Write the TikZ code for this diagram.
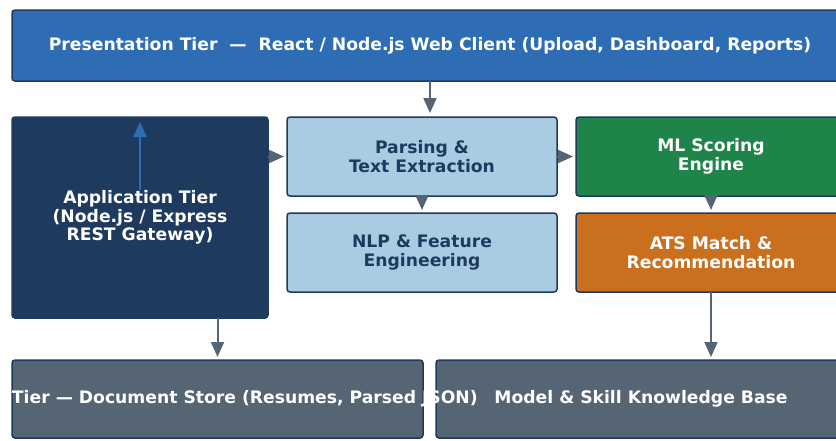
\documentclass[tikz,border=0pt]{standalone}
\usepackage{fontspec}
\setmainfont{DejaVu Sans}
\usepackage{xcolor}
\usetikzlibrary{arrows.meta, positioning}
\definecolor{tierblue}{HTML}{2E6DB4}
\definecolor{navy}{HTML}{1F3A5F}
\definecolor{paleblue}{HTML}{A9CCE3}
\definecolor{scoregreen}{HTML}{1E8449}
\definecolor{matchorange}{HTML}{CA6F1E}
\definecolor{slate}{HTML}{566573}

\begin{document}
\begin{tikzpicture}[
    x=1pt, y=-1pt,
    node distance=17pt and 19pt,
    every node/.style={inner sep=0pt, outer sep=0pt, align=center,
      font=\bfseries\fontsize{17.2}{18.6}\selectfont},
    box/.style={draw=navy, line width=1.5pt, rounded corners=3pt, text=white},
    lightbox/.style={box, fill=paleblue, text=navy, minimum width=270, minimum height=79},
    colbox/.style={box, minimum width=270, minimum height=79},
    arrow/.style={-{Triangle[length=15pt, width=13pt]}, line width=2pt, color=slate},
    uparrow/.style={-{Triangle[length=15pt, width=13pt]}, line width=2pt, color=tierblue},
  ]
  \useasboundingbox (0,0) rectangle (836,440);
  \clip (0,0) rectangle (836,440);

  % Presentation tier
  \node[box, fill=tierblue, minimum width=836, minimum height=71] (web) at (430,45.5)
    {Presentation Tier~~—~~React / Node.js Web Client (Upload, Dashboard, Reports)};

  % Application tier
  \node[box, fill=navy, minimum width=256, minimum height=201] (app) at (140,217.5)
    {Application Tier\\(Node.js / Express\\REST Gateway)};

  % Processing pipeline
  \node[lightbox] (parse) at (422,156.5) {Parsing \&\\Text Extraction};
  \node[lightbox] (nlp) [below=of parse] {NLP \& Feature\\Engineering};
  \node[colbox, fill=scoregreen] (ml) [right=of parse] {ML Scoring\\Engine};
  \node[colbox, fill=matchorange] (ats) [below=of ml] {ATS Match \&\\Recommendation};

  % Data tier
  \node[box, fill=slate, minimum width=411, minimum height=78] (store) at (217.5,399) {};
  \node[box, fill=slate, minimum width=410, minimum height=78] (kb) [right=13pt of store]
    {Model \& Skill Knowledge Base};
  \node[text=white, anchor=west] (storelbl) at (store.west)
    {Tier — Document Store (Resumes, Parsed JSON)};

  % Gateway link up to the client
  \coordinate (gw) at ([yshift=-73pt] app.north);
  \draw[uparrow, shorten >=5pt] (gw) -- (app.north);

  % Request flow
  \draw[arrow, shorten >=4pt] (web.south) -- (web.south |- parse.north);
  \draw[arrow, shorten >=3pt] (app.east |- parse.west) -- (parse.west);
  \draw[arrow, shorten >=3pt] (parse.south) -- (nlp.north);
  \draw[arrow, shorten >=3pt] (parse.east) -- (ml.west);
  \draw[arrow, shorten >=3pt] (ml.south) -- (ats.north);

  % Storage links
  \draw[arrow, shorten >=3pt] (ats.south) -- (ats.south |- kb.north);
  \draw[arrow, shorten >=3pt] (store.north |- app.south) -- (store.north);
\end{tikzpicture}
\end{document}
